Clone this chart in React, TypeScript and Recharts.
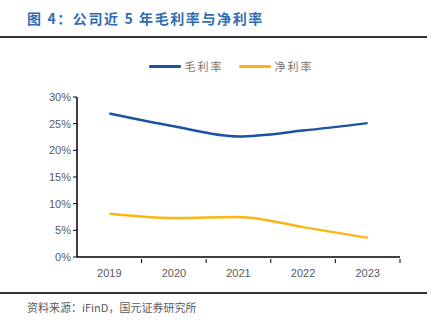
import { LineChart, Line, XAxis, YAxis, Legend } from 'recharts'

const years = ['2019', '2020', '2021', '2022', '2023']
const grossMargin = [26.9, 24.5, 22.6, 23.7, 25.1]
const netMargin = [8.1, 7.3, 7.5, 5.6, 3.6]
const yTicks = [0, 5, 10, 15, 20, 25, 30]

const series = [
  { key: 'gross', name: '毛利率', color: '#1B53A0' },
  { key: 'net', name: '净利率', color: '#FBB616' },
]

const data = years.map((y, i) => ({ year: y, gross: grossMargin[i], net: netMargin[i] }))

const CJK = '"Noto Sans CJK SC", sans-serif'
const LATIN = '"Liberation Sans", Arial, sans-serif'

// band width of one category: plot is 77..400
const BAND = (400 - 77) / years.length

function XTick({ x, y, payload }: any) {
  return (
    <g>
      <line x1={x + BAND / 2} x2={x + BAND / 2} y1={y - 2} y2={y - 6} stroke="#000" strokeWidth={1} />
      <text x={x} y={y + 12} textAnchor="middle" fill="#595959" fontSize={11} fontFamily={LATIN}>
        {payload.value}
      </text>
    </g>
  )
}

function LegendContent() {
  return (
    <div style={{ display: 'flex', justifyContent: 'center', gap: 15, paddingLeft: 62 }}>
      {series.map(s => (
        <div key={s.key} style={{ display: 'flex', alignItems: 'center' }}>
          <div style={{ width: 32, height: 3, background: s.color, borderRadius: 1 }} />
          <span style={{ marginLeft: 4, fontSize: 11, color: '#777', fontFamily: CJK, letterSpacing: 2 }}>{s.name}</span>
        </div>
      ))}
    </div>
  )
}

export default function App() {
  return (
    <div style={{ position: 'absolute', left: 0, top: 0, width: 435, height: 331, background: '#fff' }}>
      <div style={{ position: 'absolute', left: 27, top: 8, fontFamily: CJK, fontWeight: 700, fontSize: 14, letterSpacing: 1.6, color: '#2F6DB5' }}>
        图 4：公司近 5 年毛利率与净利率
      </div>
      <div style={{ position: 'absolute', left: 0, top: 36, width: 427, height: 1.5, background: '#333' }} />

      <div style={{ position: 'absolute', left: 0, top: 0 }}>
        <LineChart width={435} height={331} data={data} margin={{ top: 58, right: 35, left: 0, bottom: 44 }}>
          <Legend verticalAlign="top" height={39} content={<LegendContent />} />
          <XAxis
            dataKey="year"
            scale="band"
            height={30}
            axisLine={{ stroke: '#000', strokeWidth: 1.5 }}
            tickLine={false}
            tick={<XTick />}
            interval={0}
          />
          <YAxis
            width={77}
            domain={[0, 30]}
            ticks={yTicks}
            tickFormatter={(v: number) => `${v}%`}
            axisLine={{ stroke: '#000', strokeWidth: 1.5 }}
            tickLine={{ stroke: '#000' }}
            tickSize={4}
            tick={{ fill: '#595959', fontSize: 11, fontFamily: LATIN }}
          />
          {series.map(s => (
            <Line
              key={s.key}
              type="monotone"
              dataKey={s.key}
              name={s.name}
              stroke={s.color}
              strokeWidth={2.5}
              dot={false}
              isAnimationActive={false}
            />
          ))}
        </LineChart>
      </div>

      <div style={{ position: 'absolute', left: 0, top: 292, width: 427, height: 1.5, background: '#333' }} />
      <div style={{ position: 'absolute', left: 27, top: 299, fontFamily: CJK, fontSize: 11, color: '#595959' }}>
        资料来源：iFinD，国元证券研究所
      </div>
    </div>
  )
}
